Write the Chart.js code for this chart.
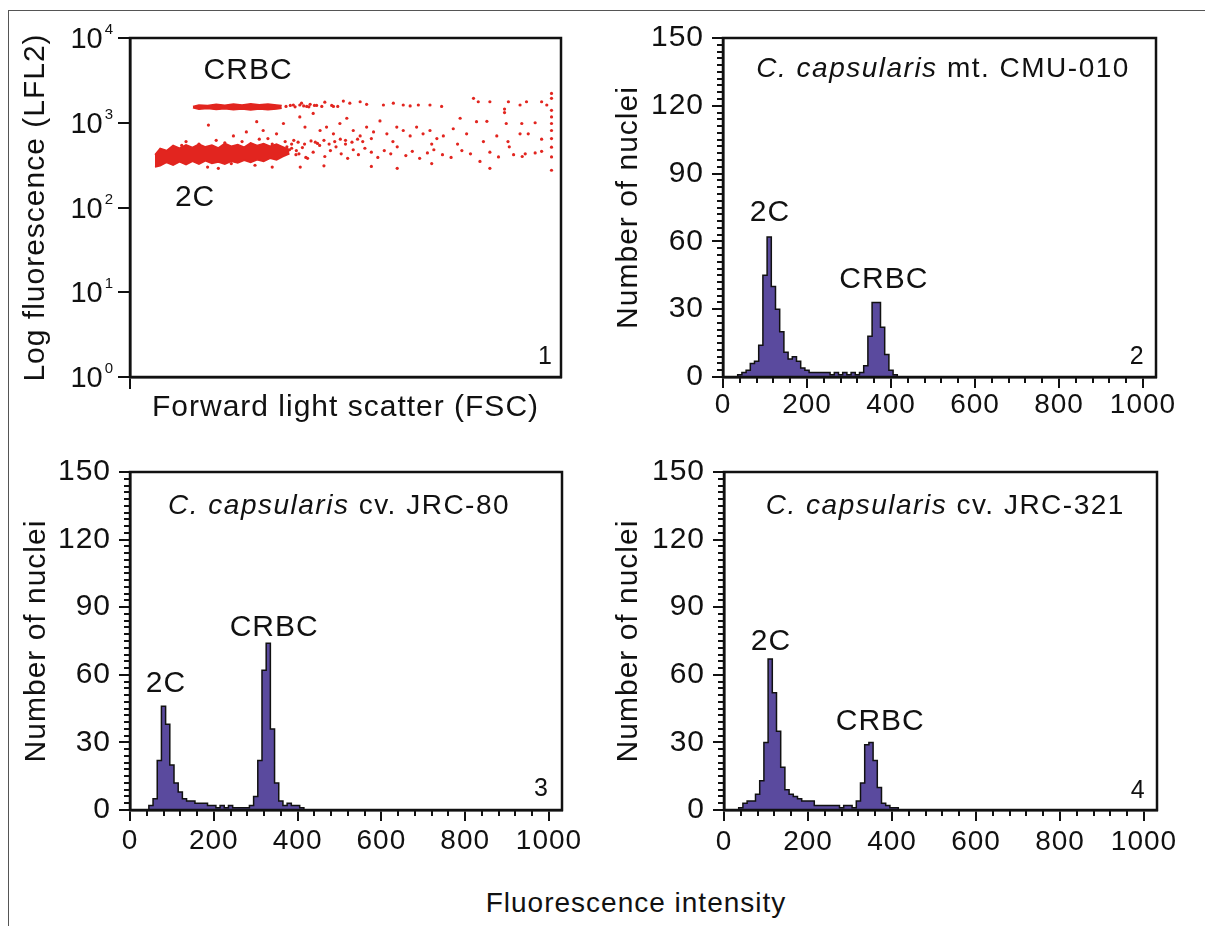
<!DOCTYPE html>
<html>
<head>
<meta charset="utf-8">
<title>Flow cytometry of C. capsularis nuclei</title>
<script src="https://cdn.jsdelivr.net/npm/chart.js@4.4.1/dist/chart.umd.min.js"></script>
<style>
  body { margin: 0; background: #fff; }
  #figure { position: relative; width: 1205px; height: 926px; overflow: hidden; font-family: "Liberation Sans", Arial, Helvetica, sans-serif; color: #111; }
  #figure canvas { position: absolute; }
  .rule-top { position: absolute; left: 8px; top: 10px; width: 1197px; border-top: 1.5px solid #555; }
  .rule-left { position: absolute; left: 8px; top: 10px; height: 916px; border-left: 1.5px solid #555; }
  #bottom-label { position: absolute; left: 0; width: 1272px; top: 889px; text-align: center; font-size: 28px; line-height: 28px; letter-spacing: 1px; }
</style>
</head>
<body>
<div id="figure">
  <div class="rule-top"></div>
  <div class="rule-left"></div>
  <canvas id="panel1" width="600" height="440" style="left:0;top:0"></canvas>
  <canvas id="panel2" width="605" height="440" style="left:600px;top:0"></canvas>
  <canvas id="panel3" width="600" height="440" style="left:0;top:440px"></canvas>
  <canvas id="panel4" width="605" height="440" style="left:600px;top:440px"></canvas>
  <div id="bottom-label">Fluorescence intensity</div>
</div>
<script>
// histogram bins (fluorescence channel), counts
const histBins = [0, 10, 20, 30, 40, 50, 60, 70, 80, 90, 100, 110, 120, 130, 140, 150, 160, 170, 180, 190,
  200, 210, 220, 230, 240, 250, 260, 270, 280, 290, 300, 310, 320, 330, 340, 350, 360, 370, 380, 390,
  400, 410, 420, 430];
const countsCMU010 = [0, 0, 0, 0, 1, 2, 3, 6, 7, 14, 45, 62, 40, 30, 20, 11, 8, 9, 7, 4,
  3, 2, 2, 2, 2, 2, 1, 2, 1, 2, 1, 2, 1, 2, 5, 18, 33, 33, 22, 10,
  3, 1, 0, 0];
const countsJRC80 = [0, 0, 0, 0, 0, 2, 5, 22, 46, 38, 20, 12, 8, 5, 4, 4, 3, 3, 3, 2,
  2, 1, 2, 1, 2, 1, 1, 1, 1, 2, 6, 22, 62, 74, 36, 12, 4, 2, 3, 2,
  2, 1, 0, 0];
const countsJRC321 = [0, 0, 0, 0, 1, 3, 4, 4, 7, 13, 30, 67, 52, 35, 19, 9, 7, 6, 5, 4,
  4, 4, 2, 2, 2, 2, 2, 2, 1, 2, 2, 1, 4, 12, 29, 30, 22, 10, 3, 2,
  1, 1, 0, 0];

const histXTicks = [0, 200, 400, 600, 800, 1000];
const histYTicks = [0, 30, 60, 90, 120, 150];
const logYTicks = [1, 10, 100, 1000, 10000];

// panel 1: dense bands (FSC vs upper/lower edge of LFL2)
const crbcBandX = [146, 160, 180, 200, 220, 240, 260, 280, 300, 320, 340, 352];
const crbcBandHi = [1560, 1620, 1600, 1650, 1610, 1660, 1620, 1670, 1630, 1660, 1620, 1600];
const crbcBandLo = [1500, 1440, 1470, 1430, 1460, 1420, 1450, 1410, 1450, 1420, 1450, 1480];
const c2BandX = [58, 70, 85, 100, 115, 130, 145, 160, 175, 190, 205, 220, 235, 250, 265, 280, 295, 310, 325, 340, 355, 370];
const c2BandHi = [420, 500, 470, 540, 500, 550, 510, 560, 520, 545, 505, 570, 530, 555, 515, 580, 540, 570, 530, 560, 520, 480];
const c2BandLo = [300, 310, 340, 315, 345, 320, 350, 325, 355, 330, 345, 325, 350, 335, 360, 340, 365, 350, 380, 365, 400, 430];

// panel 1: single events
const fscVals = [379, 398, 410, 418, 433, 452, 472, 495, 510, 534, 549, 588, 611, 634, 650, 669, 696, 723, 797, 808,
  835, 878, 905, 920, 955, 967, 978,
  978, 978, 978, 978, 978, 978, 978, 978, 978,
  869, 869, 873, 909, 905, 924, 877, 917, 940, 955,
  182, 294, 309, 340, 356, 394, 406, 425, 441, 456, 472, 487, 503, 518, 534, 549, 565, 580, 596, 619,
  634, 650, 665, 680, 696, 712, 727, 750, 766, 781, 804, 828, 851, 240, 270, 320, 380, 430, 500, 560,
  610, 700, 760, 820, 880,
  370, 385, 400, 412, 425, 440, 452, 465, 478, 490, 505, 518, 530, 545, 560, 575, 590, 605, 620, 640,
  655, 672, 690, 705, 725, 745, 770, 790, 812, 835, 855, 890, 910, 940, 955,
  180, 205, 235, 290, 330, 395, 450, 560, 620, 700, 835,
  130, 160, 200, 220, 260, 300, 120, 280,
  330, 345, 360, 375, 390, 405, 420, 435, 450, 462, 475, 488, 500, 515, 528, 540,
  362, 372, 383, 394, 403, 415, 428, 445, 468, 482, 360, 375, 392, 364, 386, 408];
const lflVals = [1620, 1700, 1560, 1650, 1600, 1750, 1560, 1800, 1700, 1770, 1650, 1620, 1700, 1620, 1580, 1620, 1620, 1560, 1940, 1770,
  1770, 1770, 1620, 1770, 1770, 1620, 1940,
  2220, 1400, 1170, 980, 810, 650, 515, 395, 275,
  1450, 1320, 980, 980, 740, 740, 600, 430, 1000, 640,
  940, 1030, 810, 740, 980, 1170, 890, 1290, 810, 890, 740, 980, 1130, 810, 700, 890, 780, 1050, 740, 890,
  810, 700, 890, 740, 810, 650, 700, 850, 1130, 740, 1030, 1040, 700, 700, 780, 650, 620, 590, 620, 650,
  600, 560, 560, 600, 520,
  480, 420, 510, 380, 450, 540, 400, 470, 520, 430, 380, 480, 420, 500, 450, 390, 470, 430, 520, 410,
  460, 380, 440, 480, 420, 390, 470, 430, 350, 450, 395, 420, 400, 440, 460,
  300, 290, 330, 315, 300, 300, 310, 305, 290, 330, 290,
  600, 560, 620, 580, 600, 640, 540, 560,
  560, 520, 600, 560, 590, 560, 610, 570, 620, 560, 600, 640, 560, 590, 640, 600,
  1560, 1600, 1540, 1620, 1580, 1540, 1600, 1560, 1600, 1560, 450, 500, 430, 520, 470, 390];

const titleCMU010 = [{ text: 'C. capsularis', italic: true }, { text: ' mt. CMU-010' }];
const titleJRC80 = [{ text: 'C. capsularis', italic: true }, { text: ' cv. JRC-80' }];
const titleJRC321 = [{ text: 'C. capsularis', italic: true }, { text: ' cv. JRC-321' }];

const FONT = "'Liberation Sans', Arial, Helvetica, sans-serif";
const INK = '#111';
const PURPLE = '#5a4a9e';
const RED = '#e2251f';

Chart.defaults.font.family = FONT;
Chart.defaults.color = INK;

const axisBorder = { display: true, color: INK, width: 2.5 };
function tickGrid(len) {
  return { drawOnChartArea: false, drawTicks: true, tickLength: len, tickWidth: 2, tickColor: INK, color: INK, lineWidth: 2 };
}
function note(x, y, text, size, spacing) {
  return { x: x, y: y, parts: [{ text: text }], size: size, spacing: spacing };
}

// box, minor ticks, log labels and in-plot labels
function makeDecor(cfg) {
  return {
    id: 'decor',
    beforeDraw(chart) { chart.ctx.letterSpacing = '1px'; },
    afterDraw(chart) {
      const ctx = chart.ctx;
      const a = chart.chartArea;
      const xs = chart.scales.x;
      const ys = chart.scales.y;
      ctx.save();
      ctx.strokeStyle = INK;
      ctx.lineWidth = 2.5;
      ctx.strokeRect(a.left, a.top, a.right - a.left, a.bottom - a.top);

      ctx.lineWidth = 2;
      ctx.beginPath();
      if (cfg.minorX) {
        for (let v = cfg.minorX; v < 1000; v += cfg.minorX) {
          if (v % 200 === 0) continue;
          const px = Math.round(xs.getPixelForValue(v));
          ctx.moveTo(px, a.bottom);
          ctx.lineTo(px, a.bottom + 6);
        }
      }
      if (cfg.minorY) {
        for (let v = cfg.minorY; v < 150; v += cfg.minorY) {
          if (v % 30 === 0) continue;
          const py = Math.round(ys.getPixelForValue(v));
          ctx.moveTo(a.left, py);
          ctx.lineTo(a.left - 6, py);
        }
      }
      ctx.stroke();

      ctx.fillStyle = INK;
      if (cfg.logLabels) {
        ctx.letterSpacing = '0px';
        ctx.textAlign = 'right';
        ctx.textBaseline = 'alphabetic';
        logYTicks.forEach(v => {
          const py = ys.getPixelForValue(v);
          const exp = String(Math.round(Math.log10(v)));
          const xr = a.left - 17;
          ctx.font = '15px ' + FONT;
          ctx.fillText(exp, xr, py - 4);
          const w = ctx.measureText(exp).width;
          ctx.font = '29px ' + FONT;
          ctx.fillText('10', xr - w - 2, py + 10);
        });
      }

      (cfg.texts || []).forEach(t => {
        const px = xs.getPixelForValue(t.x);
        const py = ys.getPixelForValue(t.y);
        ctx.letterSpacing = t.spacing;
        ctx.textAlign = 'left';
        ctx.textBaseline = 'middle';
        const fonts = t.parts.map(p => (p.italic ? 'italic ' : '') + t.size + 'px ' + FONT);
        let total = 0;
        const widths = t.parts.map((p, i) => {
          ctx.font = fonts[i];
          const w = ctx.measureText(p.text).width;
          total += w;
          return w;
        });
        let x = px - total / 2;
        t.parts.forEach((p, i) => {
          ctx.font = fonts[i];
          ctx.fillText(p.text, x, py);
          x += widths[i];
        });
      });
      ctx.restore();
    }
  };
}

// PANEL 1 - log fluorescence vs forward scatter
new Chart(document.getElementById('panel1'), {
  type: 'line',
  data: {
    datasets: [
      { data: crbcBandX.map((x, i) => ({ x: x, y: crbcBandLo[i] })), borderColor: RED, borderWidth: 1.5, pointRadius: 0, fill: false },
      { data: crbcBandX.map((x, i) => ({ x: x, y: crbcBandHi[i] })), borderColor: RED, borderWidth: 1.5, pointRadius: 0, fill: '-1', backgroundColor: RED },
      { data: c2BandX.map((x, i) => ({ x: x, y: c2BandLo[i] })), borderColor: RED, borderWidth: 1.5, pointRadius: 0, fill: false },
      { data: c2BandX.map((x, i) => ({ x: x, y: c2BandHi[i] })), borderColor: RED, borderWidth: 1.5, pointRadius: 0, fill: '-1', backgroundColor: RED },
      { data: fscVals.map((x, i) => ({ x: x, y: lflVals[i] })), showLine: false, pointRadius: 1.6, pointBorderWidth: 0, pointBackgroundColor: RED }
    ]
  },
  options: {
    responsive: false, animation: false, devicePixelRatio: 1,
    layout: { padding: { top: 38, right: 39, left: 0, bottom: 0 } },
    plugins: { legend: { display: false }, tooltip: { enabled: false } },
    scales: {
      x: {
        type: 'linear', min: 0, max: 1000,
        afterBuildTicks: s => { s.ticks = [{ value: 0 }]; },
        afterFit: s => { s.height = 63; },
        grid: tickGrid(12), border: axisBorder,
        ticks: { callback: () => '' },
        title: { display: true, text: 'Forward light scatter (FSC)', color: INK, font: { size: 30, lineHeight: 1 }, padding: { top: 0, bottom: 17 } }
      },
      y: {
        type: 'logarithmic', min: 1, max: 10000,
        afterBuildTicks: s => { s.ticks = logYTicks.map(v => ({ value: v })); },
        afterFit: s => { s.width = 130; },
        grid: tickGrid(12), border: axisBorder,
        ticks: { callback: () => '' },
        title: { display: true, text: 'Log fluorescence (LFL2)', color: INK, font: { size: 30, lineHeight: 1 }, padding: { top: 20.5, bottom: 0 } }
      }
    }
  },
  plugins: [makeDecor({
    logLabels: true,
    texts: [note(274, 4070, 'CRBC', 30, '1px'), note(151, 132, '2C', 30, '1px'), note(963, 1.72, '1', 25, '0px')]
  })]
});

// PANELS 2-4 - DNA histograms
function histogramPanel(canvasId, counts, g, texts) {
  return new Chart(document.getElementById(canvasId), {
    type: 'line',
    data: {
      datasets: [{
        data: histBins.map((b, i) => ({ x: b, y: counts[i] })),
        stepped: 'middle', fill: 'origin', backgroundColor: PURPLE,
        borderColor: INK, borderWidth: 1.5, pointRadius: 0
      }]
    },
    options: {
      responsive: false, animation: false, devicePixelRatio: 1,
      layout: { padding: { top: g.top, right: g.right, left: 0, bottom: 0 } },
      plugins: { legend: { display: false }, tooltip: { enabled: false } },
      scales: {
        x: {
          type: 'linear', min: 0, max: 1031,
          afterBuildTicks: s => { s.ticks = histXTicks.map(v => ({ value: v })); },
          afterFit: s => { s.height = g.xAxis; },
          grid: tickGrid(11), border: axisBorder,
          ticks: { font: { size: 28, lineHeight: 1 }, color: INK, padding: g.xPad, maxRotation: 0, autoSkip: false, callback: v => String(v) }
        },
        y: {
          min: 0, max: 150,
          afterBuildTicks: s => { s.ticks = histYTicks.map(v => ({ value: v })); },
          afterFit: s => { s.width = g.yAxis; },
          grid: tickGrid(11), border: axisBorder,
          ticks: { font: { size: 30, lineHeight: 1 }, color: INK, padding: 8, callback: v => String(v) },
          title: { display: true, text: 'Number of nuclei', color: INK, font: { size: 30, lineHeight: 1 }, padding: { top: g.titlePad, bottom: 0 } }
        }
      }
    },
    plugins: [makeDecor({ minorX: 40, minorY: 3, texts: texts })]
  });
}

histogramPanel('panel2', countsCMU010,
  { top: 38, right: 49, yAxis: 123, xAxis: 63, xPad: 3, titlePad: 14 },
  [{ x: 524, y: 136, parts: titleCMU010, size: 28, spacing: '1.5px' },
   note(112, 72.5, '2C', 30, '1px'), note(383, 43, 'CRBC', 30, '1px'), note(985, 8.8, '2', 25, '0px')]);

histogramPanel('panel3', countsJRC80,
  { top: 32, right: 38, yAxis: 130, xAxis: 70, xPad: 6, titlePad: 21.5 },
  [{ x: 499, y: 135, parts: titleJRC80, size: 28, spacing: '1.5px' },
   note(86, 56, '2C', 30, '1px'), note(344, 81, 'CRBC', 30, '1px'), note(981, 9.3, '3', 25, '0px')]);

histogramPanel('panel4', countsJRC321,
  { top: 32, right: 48, yAxis: 124, xAxis: 70, xPad: 7, titlePad: 14 },
  [{ x: 527, y: 135, parts: titleJRC321, size: 28, spacing: '1.5px' },
   note(112, 74.6, '2C', 30, '1px'), note(372, 39, 'CRBC', 30, '1px'), note(985, 8.4, '4', 25, '0px')]);
</script>
</body>
</html>
